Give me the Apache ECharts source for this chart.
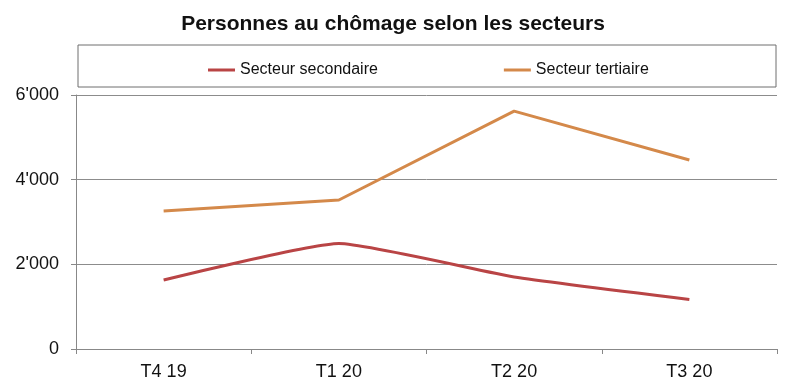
<!DOCTYPE html>
<html>
<head>
<meta charset="utf-8">
<script src="https://cdn.jsdelivr.net/npm/echarts@6/dist/echarts.min.js"></script>
<style>html,body{margin:0;padding:0;background:#fff}#c{width:786px;height:383px}</style>
</head>
<body>
<div id="c"></div>
<script>
const categories = ['T4 19', 'T1 20', 'T2 20', 'T3 20'];
const secondaire = [1630, 2490, 1700, 1170];
const tertiaire = [3260, 3520, 5620, 4465];
const yTicks = [0, 2000, 4000, 6000];

const chart = echarts.init(document.getElementById('c'), null, {renderer: 'canvas'});
const font = 'Liberation Sans, Arial, sans-serif';
chart.setOption({
  animation: false,
  backgroundColor: '#ffffff',
  title: {
    text: 'Personnes au chômage selon les secteurs',
    left: 'center',
    top: 9,
    textStyle: {fontFamily: font, fontSize: 21, fontWeight: 'bold', color: '#111'}
  },
  graphic: [{
    type: 'rect',
    shape: {x: 78, y: 45, width: 698, height: 42},
    style: {fill: 'none', stroke: '#6e6e6e', lineWidth: 1}
  }],
  legend: {
    left: 203,
    top: 57,
    itemWidth: 27,
    itemHeight: 3,
    itemGap: 126,
    icon: 'rect',
    textStyle: {fontFamily: font, fontSize: 16, color: '#111'},
    data: ['Secteur secondaire', 'Secteur tertiaire']
  },
  grid: {left: 76, right: 9, top: 95, bottom: 34, containLabel: false},
  xAxis: {
    type: 'category',
    data: categories,
    boundaryGap: true,
    axisLine: {lineStyle: {color: '#888', width: 1}},
    axisTick: {show: true, length: 5, lineStyle: {color: '#888'}},
    axisLabel: {fontFamily: font, fontSize: 18, color: '#111', margin: 14}
  },
  yAxis: {
    type: 'value',
    min: 0,
    max: 6000,
    interval: 2000,
    axisLine: {show: true, lineStyle: {color: '#888', width: 1}},
    axisTick: {show: true, length: 5, lineStyle: {color: '#888'}},
    splitLine: {show: true, lineStyle: {color: '#8c8c8c', width: 1}},
    axisLabel: {
      fontFamily: font, fontSize: 18, color: '#111', margin: 17,
      formatter: v => yTicks.includes(v) ? String(v).replace(/\B(?=(\d{3})+(?!\d))/g, "'") : ''
    }
  },
  series: [
    {
      name: 'Secteur secondaire', type: 'line', data: secondaire,
      smooth: 0.15, symbol: 'none',
      lineStyle: {color: '#b94445', width: 3},
      itemStyle: {color: '#b94445'}
    },
    {
      name: 'Secteur tertiaire', type: 'line', data: tertiaire,
      smooth: false, symbol: 'none',
      lineStyle: {color: '#d4894a', width: 3},
      itemStyle: {color: '#d4894a'}
    }
  ]
});
</script>
</body>
</html>
